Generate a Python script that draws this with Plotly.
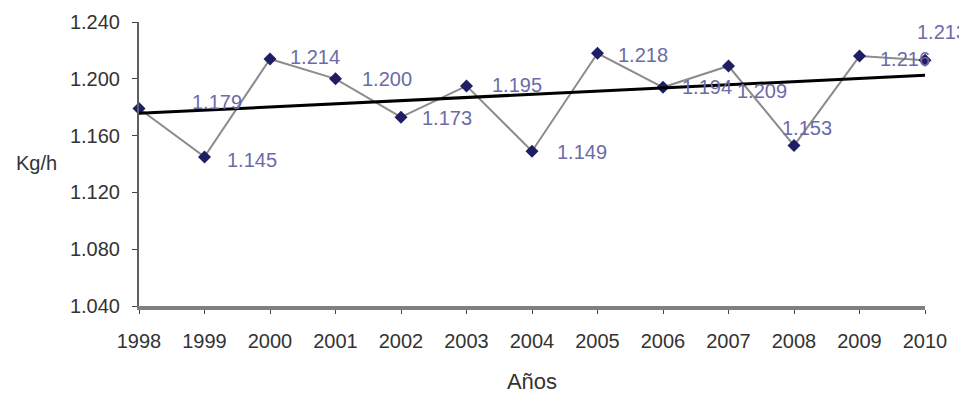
import numpy as np
import plotly.graph_objects as go

years = [1998, 1999, 2000, 2001, 2002, 2003, 2004, 2005, 2006, 2007, 2008, 2009, 2010]
kgh = [1.179, 1.145, 1.214, 1.200, 1.173, 1.195, 1.149, 1.218, 1.194, 1.209, 1.153, 1.216, 1.213]
y_ticks = [1.040, 1.080, 1.120, 1.160, 1.200, 1.240]

# label offsets (pixels) relative to each point: left edge shift, vertical shift (up +)
label_dx = [51, 20, 18, 24, 19, 23, 23, 18, 17, 6, -14, 18, -10]
label_dy = [7, -3, 2, 0, -1, 1, -1, -2, 0, -25, 18, -3, 28]

slope, intercept = np.polyfit(years, kgh, 1)
trend = [slope * x + intercept for x in years]

fig = go.Figure()
fig.add_trace(go.Scatter(
    x=years, y=kgh, mode="lines+markers",
    line=dict(color="#8c8c8c", width=2),
    marker=dict(symbol="diamond", size=10, color="#1e1e64"),
    cliponaxis=False, showlegend=False))
fig.add_trace(go.Scatter(
    x=[years[0], years[-1]], y=[trend[0], trend[-1]], mode="lines",
    line=dict(color="#000000", width=3), showlegend=False))

for x, y, dx, dy in zip(years, kgh, label_dx, label_dy):
    fig.add_annotation(x=x, y=y, text=f"{y:.3f}", showarrow=False,
                       xanchor="left", yanchor="middle", xshift=dx, yshift=dy,
                       font=dict(family="Liberation Sans, Arial", size=20, color="#6b6ba8"))

fig.update_layout(
    width=959, height=386,
    margin=dict(l=131, r=42, t=14, b=88),
    paper_bgcolor="white", plot_bgcolor="white",
    font=dict(family="Liberation Sans, Arial", size=20, color="#333333"),
    xaxis=dict(range=[1998, 2010], tickvals=years, ticktext=[str(y) for y in years],
               showgrid=False, zeroline=False, showline=True, linecolor="#808080",
               linewidth=4, ticks="outside", ticklen=4, tickcolor="#444444",
               ticklabelstandoff=10, automargin=False,
               title=dict(text="Años", standoff=28, font=dict(size=22)), tickfont=dict(size=20)),
    yaxis=dict(range=[1.040, 1.240], tickvals=y_ticks, ticktext=[f"{v:.3f}" for v in y_ticks],
               showgrid=False, zeroline=False, showline=True, linecolor="#606060",
               linewidth=2, ticks="outside", ticklen=5, tickcolor="#444444",
               ticklabelstandoff=8, automargin=False, tickfont=dict(size=20)),
)
fig.add_annotation(text="Kg/h", xref="paper", yref="paper", x=-0.13, y=0.505,
                   xanchor="center", yanchor="middle", showarrow=False,
                   font=dict(size=20, color="#333333"))
fig.write_html("out.html")
